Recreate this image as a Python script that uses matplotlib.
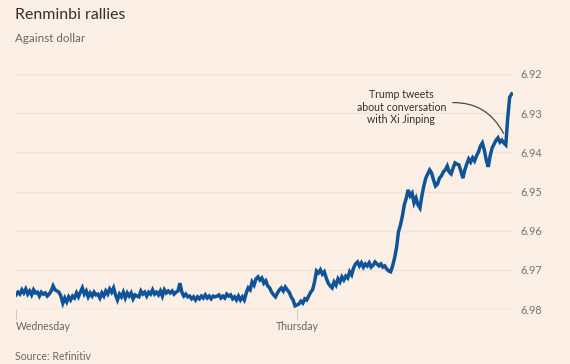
import numpy as np
import matplotlib
matplotlib.use("Agg")
import matplotlib.pyplot as plt

# CNY per USD, 10-minute readings from Wednesday 00:00
rates = [
    6.9764, 6.9757, 6.9762, 6.9751, 6.9759, 6.9749, 6.9762, 6.9754, 6.9764, 6.9751,
    6.9759, 6.9757, 6.9767, 6.9757, 6.9762, 6.9759, 6.9767, 6.9762, 6.9754, 6.9741,
    6.9751, 6.9754,
    6.9757, 6.9767, 6.9785, 6.9772, 6.9782, 6.9769, 6.9777, 6.9767, 6.9772, 6.9759,
    6.9769, 6.9757, 6.9746, 6.9762, 6.9754, 6.9769, 6.9759, 6.9767, 6.9757, 6.9764,
    6.9762, 6.9772, 6.9759, 6.9767, 6.9754, 6.9762, 6.9749, 6.9757, 6.9746, 6.9764,
    6.9777, 6.9762, 6.9769, 6.9757, 6.9772, 6.9759, 6.9767, 6.9759, 6.9774, 6.9764,
    6.9767,
    6.9769, 6.9754, 6.9762, 6.9757, 6.9767, 6.9757, 6.9762, 6.9751, 6.9762, 6.9757,
    6.9764, 6.9754, 6.9767, 6.9751, 6.9759, 6.9754, 6.9759, 6.9754, 6.9762, 6.9757,
    6.9754, 6.9734, 6.9757, 6.9767, 6.9762, 6.9769, 6.9767, 6.9774, 6.9769, 6.9777,
    6.9769, 6.9774, 6.9767, 6.9772, 6.9764, 6.9772, 6.9767, 6.9774, 6.9767, 6.9769,
    6.9767,
    6.9764, 6.9772, 6.9767, 6.9772, 6.9762, 6.9767, 6.9764, 6.9774, 6.9769, 6.9777,
    6.9767, 6.9777, 6.9769, 6.9777, 6.9759, 6.9746, 6.9751, 6.9731, 6.9739, 6.9723,
    6.9718, 6.9726, 6.9721, 6.9734, 6.9728, 6.9741, 6.9746, 6.9757, 6.9764, 6.9769,
    6.9759, 6.9751, 6.9746, 6.9754, 6.9744, 6.9751, 6.9757, 6.9769, 6.9777, 6.9792,
    6.9790,
    6.9787, 6.9780, 6.9785, 6.9774, 6.9777, 6.9767, 6.9757, 6.9751, 6.9731, 6.9703,
    6.9708, 6.9700, 6.9711, 6.9705, 6.9721, 6.9734, 6.9741, 6.9746, 6.9731, 6.9739,
    6.9723, 6.9731, 6.9718, 6.9726, 6.9716, 6.9721, 6.9705, 6.9713, 6.9695, 6.9685,
    6.9680, 6.9690, 6.9682, 6.9693, 6.9685, 6.9690, 6.9682, 6.9693, 6.9688, 6.9680,
    6.9685,
    6.9690, 6.9685, 6.9693, 6.9690, 6.9698, 6.9703, 6.9705, 6.9690, 6.9670, 6.9644,
    6.9603, 6.9586, 6.9563, 6.9534, 6.9517, 6.9496, 6.9511, 6.9504, 6.9529, 6.9517,
    6.9534, 6.9542, 6.9511, 6.9486, 6.9466, 6.9455, 6.9445, 6.9453, 6.9471, 6.9486,
    6.9481, 6.9466, 6.9460, 6.9450, 6.9445, 6.9435, 6.9450, 6.9455, 6.9440, 6.9427,
    6.9430,
    6.9432, 6.9448, 6.9466, 6.9445, 6.9430, 6.9417, 6.9425, 6.9414, 6.9422, 6.9409,
    6.9399, 6.9384, 6.9376, 6.9394, 6.9420, 6.9437, 6.9409, 6.9389, 6.9379, 6.9369,
    6.9363, 6.9374, 6.9369, 6.9376, 6.9381, 6.9312, 6.9259, 6.9251,
]
hours = np.arange(len(rates)) / 6.0  # 10-minute steps

day_ticks = [0, 24]
day_labels = ["Wednesday", "Thursday"]
rate_ticks = [6.92, 6.93, 6.94, 6.95, 6.96, 6.97, 6.98]

bg = "#fcefe5"
plt.rcParams["font.family"] = ["Lato", "DejaVu Sans"]

fig = plt.figure(figsize=(5.7, 3.64), dpi=100, facecolor=bg)
ax = fig.add_axes([16 / 570, 1 - 309 / 364, (513 - 16) / 570, (309 - 74) / 364])
ax.set_facecolor(bg)

ax.plot(hours, rates, color="#0f5499", lw=2.5, solid_joinstyle="miter", zorder=3)

ax.set_xlim(0, 42.45)
ax.set_ylim(6.98, 6.92)

for s in ax.spines.values():
    s.set_visible(False)

ax.yaxis.tick_right()
ax.set_yticks(rate_ticks)
ax.set_yticklabels(["%.2f" % v for v in rate_ticks])
ax.tick_params(axis="y", length=0, pad=5, labelsize=7.8, labelcolor="#7a716b")
ax.yaxis.grid(True, color="#efe3d9", lw=1)
for t in ax.get_yticklabels():
    t.set_horizontalalignment("left")

ax.set_xticks(day_ticks)
ax.set_xticklabels(day_labels)
ax.tick_params(axis="x", length=7, width=0.8, color="#d6cabf", pad=2,
               labelsize=7.6, labelcolor="#6e6661")
ax.get_xticklabels()[0].set_horizontalalignment("left")
ax.axhline(6.98, color="#e6d9ce", lw=1, zorder=1)

ax.annotate("Trump tweets\nabout conversation\nwith Xi Jinping",
            xy=(41.75, 6.9358), xytext=(32.9, 6.9285),
            ha="center", va="center", fontsize=7.6, color="#33302e",
            linespacing=1.15,
            arrowprops=dict(arrowstyle="-", color="#4d4845", lw=0.9,
                            connectionstyle="arc3,rad=-0.35",
                            relpos=(1.0, 0.62), shrinkA=3, shrinkB=2))

fig.text(15 / 570, 1 - 15 / 364, "Renminbi rallies", fontsize=11.4,
         color="#33302e", va="center", ha="left")
fig.text(15 / 570, 1 - 39 / 364, "Against dollar", fontsize=8.4,
         color="#6e6661", va="center", ha="left")
fig.text(15 / 570, 1 - 356 / 364, "Source: Refinitiv", fontsize=7.6,
         color="#6e6661", va="center", ha="left")

plt.savefig("out.png", dpi=100, facecolor=bg)
